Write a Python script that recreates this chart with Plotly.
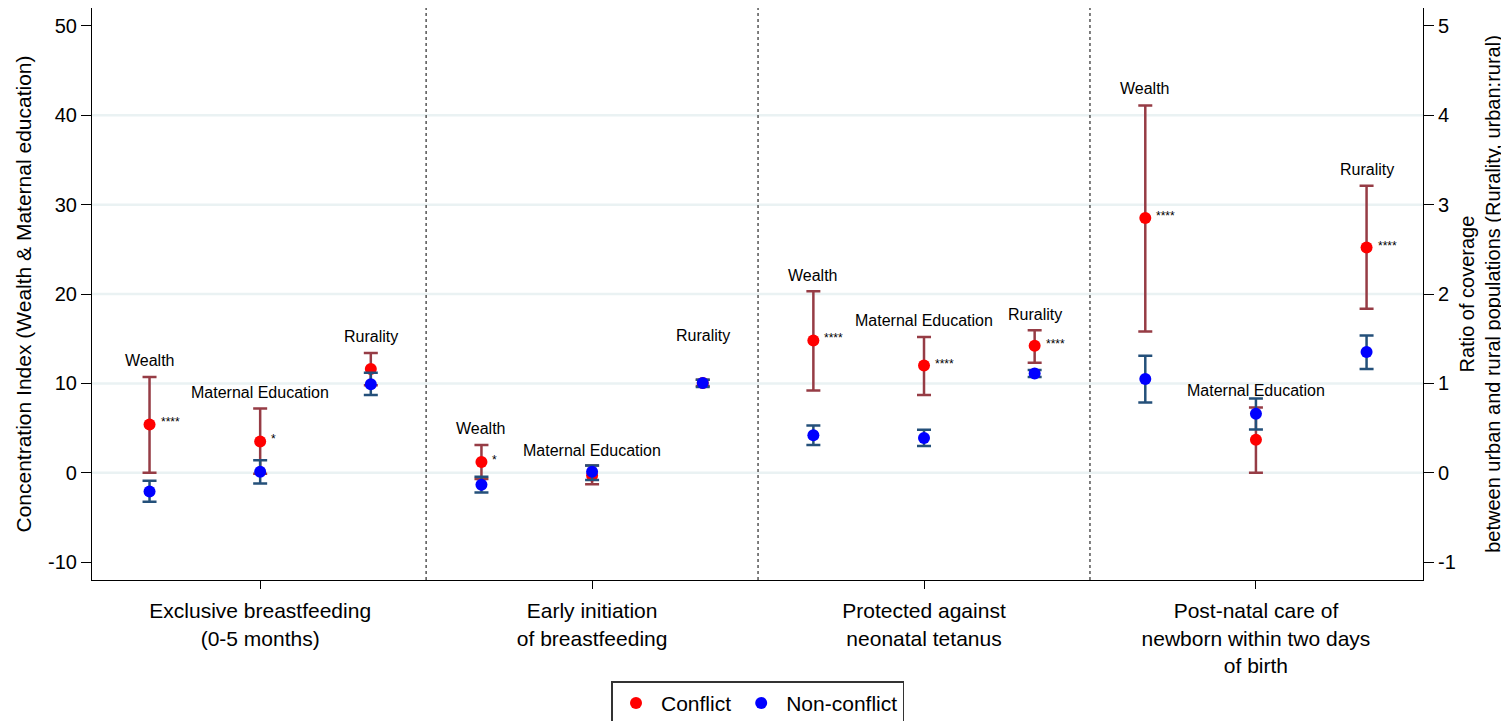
import plotly.graph_objects as go

# ---------------- data ----------------
indicators = ["Exclusive breastfeeding<br>(0-5 months)",
              "Early initiation<br>of breastfeeding",
              "Protected against<br>neonatal tetanus",
              "Post-natal care of<br>newborn within two days<br>of birth"]
subgroups = ["Wealth", "Maternal Education", "Rurality"]

# Concentration index (left axis)
wealth_conf = [5.4, 1.2, 14.8, 28.5]
wealth_conf_lo = [0.0, -0.7, 9.2, 15.8]
wealth_conf_hi = [10.7, 3.1, 20.3, 41.1]
wealth_non = [-2.1, -1.35, 4.2, 10.5]
wealth_non_lo = [-3.25, -2.2, 3.1, 7.85]
wealth_non_hi = [-0.9, -0.45, 5.3, 13.1]

educ_conf = [3.5, -0.3, 12.0, 3.7]
educ_conf_lo = [-0.1, -1.3, 8.7, 0.0]
educ_conf_hi = [7.2, 0.8, 15.2, 7.3]
educ_non = [0.1, 0.1, 3.9, 6.6]
educ_non_lo = [-1.2, -0.8, 3.0, 4.85]
educ_non_hi = [1.4, 0.8, 4.8, 8.3]

# Ratio urban:rural (right axis)
rural_conf = [1.16, 1.005, 1.42, 2.52]
rural_conf_lo = [0.98, 0.97, 1.23, 1.835]
rural_conf_hi = [1.34, 1.04, 1.595, 3.21]
rural_non = [0.99, 1.005, 1.11, 1.35]
rural_non_lo = [0.87, 0.96, 1.07, 1.16]
rural_non_hi = [1.12, 1.04, 1.15, 1.535]

# significance stars for conflict estimates
wealth_stars = ["****", "*", "****", "****"]
educ_stars = ["*", "", "****", ""]
rural_stars = ["", "", "****", "****"]

left_ticks = [-10, 0, 10, 20, 30, 40, 50]
left_ticktext = ["-10", "0", "10", "20", "30", "40", "50"]
right_ticks = [-1, 0, 1, 2, 3, 4, 5]
right_ticktext = ["-1", "0", "1", "2", "3", "4", "5"]
grid_values = [0, 10, 20, 30, 40]

# ---------------- layout helpers ----------------
FONT = "Liberation Sans, Arial, sans-serif"
RED, RED_BAR = "#FF0000", "#963C45"
BLUE, BLUE_BAR = "#0000FF", "#24507A"

n = len(indicators)
xw = [3 * i + 0 for i in range(n)]
xe = [3 * i + 1 for i in range(n)]
xr = [3 * i + 2 for i in range(n)]

# label heights (in axis units) for subgroup names
wealth_lab_y = [12.6, 4.9, 22.1, 43.0]
educ_lab_y = [9.0, 2.5, 17.0, 9.2]
rural_lab_y = [1.525, 1.54, 1.77, 3.39]

fig = go.Figure()


def add(x, y, lo, hi, color, barcolor, name, show, yaxis="y"):
    fig.add_trace(go.Scatter(
        x=x, y=y, mode="markers", name=name, legendgroup=name, showlegend=show,
        yaxis=yaxis,
        marker=dict(color=color, size=12),
        error_y=dict(type="data", symmetric=False,
                     array=[h - v for h, v in zip(hi, y)],
                     arrayminus=[v - l for v, l in zip(y, lo)],
                     color=barcolor, thickness=2.5, width=7),
        hoverinfo="x+y"))


add(xw, wealth_conf, wealth_conf_lo, wealth_conf_hi, RED, RED_BAR, "Conflict", True)
add(xe, educ_conf, educ_conf_lo, educ_conf_hi, RED, RED_BAR, "Conflict", False)
add(xw, wealth_non, wealth_non_lo, wealth_non_hi, BLUE, BLUE_BAR, "Non-conflict", True)
add(xe, educ_non, educ_non_lo, educ_non_hi, BLUE, BLUE_BAR, "Non-conflict", False)
add(xr, rural_conf, rural_conf_lo, rural_conf_hi, RED, RED_BAR, "Conflict", False, "y2")
add(xr, rural_non, rural_non_lo, rural_non_hi, BLUE, BLUE_BAR, "Non-conflict", False, "y2")

ann = []
for i in range(n):
    for x, ly, lab, yref in ((xw[i], wealth_lab_y[i], subgroups[0], "y"),
                             (xe[i], educ_lab_y[i], subgroups[1], "y"),
                             (xr[i], rural_lab_y[i], subgroups[2], "y2")):
        ann.append(dict(x=x, y=ly, xref="x", yref=yref, text=lab, showarrow=False,
                        font=dict(size=16, color="black", family=FONT)))
    for x, v, s, yref in ((xw[i], wealth_conf[i], wealth_stars[i], "y"),
                          (xe[i], educ_conf[i], educ_stars[i], "y"),
                          (xr[i], rural_conf[i], rural_stars[i], "y2")):
        if s:
            ann.append(dict(x=x, y=v, xref="x", yref=yref, text=s, showarrow=False,
                            xanchor="left", xshift=9, yshift=2,
                            font=dict(size=12, color="black", family=FONT)))

# light horizontal gridlines (interior ticks only)
shapes = [dict(type="line", xref="paper", yref="y", x0=0, x1=1, y0=g, y1=g,
               line=dict(color="#EAF2F3", width=2.5), layer="below")
          for g in grid_values]
shapes += [dict(type="line", xref="x", yref="paper", x0=b, x1=b, y0=0, y1=1,
                line=dict(color="#555555", width=1.5, dash="dot"))
           for b in (2.5, 5.5, 8.5)]

# the page body adds an 8px margin; the figure is offset accordingly
fig.update_layout(
    width=1501, height=722,
    margin=dict(l=84, r=86, t=0, b=150),
    paper_bgcolor="white", plot_bgcolor="white",
    font=dict(family=FONT, size=20, color="black"),
    showlegend=True,
    legend=dict(orientation="h", x=0.5, xanchor="center", y=-0.177, yanchor="top",
                bordercolor="#333333", borderwidth=1.5,
                font=dict(size=21, family=FONT), itemsizing="constant",
                itemwidth=40),
    xaxis=dict(range=[-0.52, 11.51], showgrid=False, zeroline=False,
               showline=True, linecolor="black", linewidth=1.2,
               tickvals=xe, ticktext=indicators,
               ticks="outside", ticklen=8, tickcolor="black",
               tickfont=dict(size=21), automargin=False, ticklabelstandoff=4),
    yaxis=dict(range=[-12, 52], tickvals=left_ticks, ticktext=left_ticktext,
               showgrid=False, zeroline=False,
               showline=True, linecolor="black", linewidth=1.2,
               ticks="outside", ticklen=10, tickcolor="black", automargin=False,
               title=dict(text="Concentration Index (Wealth & Maternal education)",
                          font=dict(size=21), standoff=10)),
    yaxis2=dict(range=[-1.2, 5.2], tickvals=right_ticks, ticktext=right_ticktext,
                overlaying="y", side="right",
                showgrid=False, zeroline=False,
                showline=True, linecolor="black", linewidth=1.2,
                ticks="outside", ticklen=10, tickcolor="black", automargin=False,
                title=dict(text="Ratio of coverage<br>between urban and rural populations (Rurality, urban:rural)",
                           font=dict(size=20), standoff=0)),
    annotations=ann, shapes=shapes,
)

fig.write_html("out.html")
